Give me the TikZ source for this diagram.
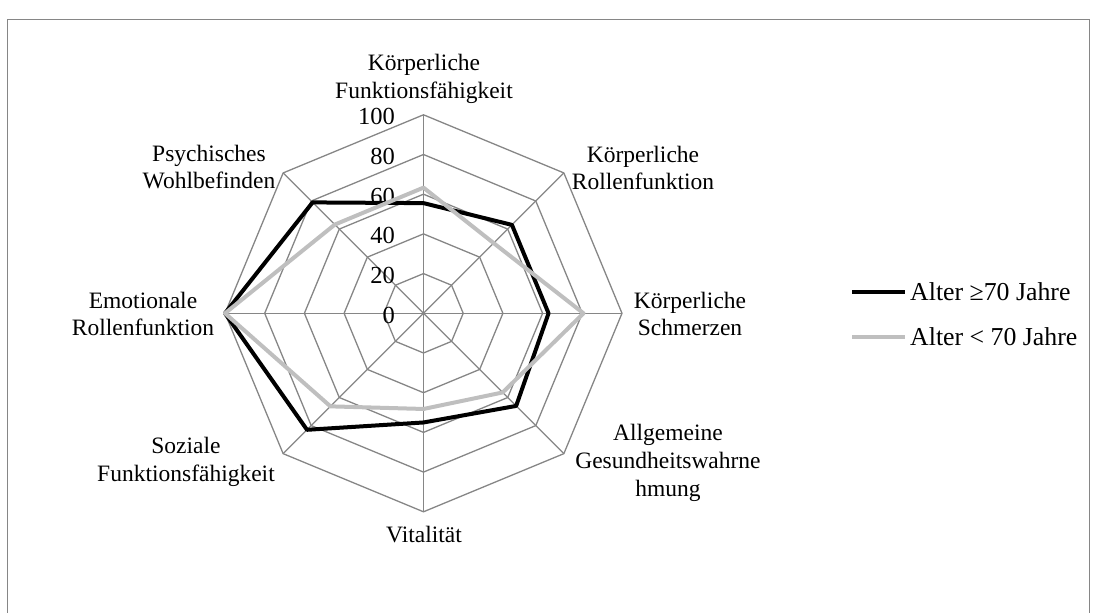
\documentclass[tikz,border=0pt]{standalone}
\usepackage{fontspec}
\setmainfont{Liberation Serif}
\usetikzlibrary{calc}
\definecolor{gridgray}{HTML}{868686}
\definecolor{younggray}{HTML}{BFBFBF}
\begin{document}
\begin{tikzpicture}[x=1pt,y=1pt,
  font=\fontsize{23.5}{27.8}\selectfont,
  gridline/.style={draw=gridgray, line width=1.3pt},
  oldline/.style={draw=black, line width=4pt, line join=round},
  youngline/.style={draw=younggray, line width=4pt, line join=round},
  lbl/.style={align=center, inner sep=0pt},
  ticklbl/.style={anchor=east, inner sep=0pt, font=\fontsize{24.5}{28}\selectfont},
  legtext/.style={anchor=west, inner sep=0pt, font=\fontsize{25.8}{30}\selectfont}]
\useasboundingbox (0,0) rectangle (1096,613);
\draw[draw=gridgray, line width=1pt] (7,-5) -- (7,593) -- (1089,593) -- (1089,-5);
\begin{scope}[shift={(423.5,299.7)}]
  % rings
  \foreach \v in {20,40,60,80,100}{
    \draw[gridline] (90:\v*1.985) -- (45:\v*1.985) -- (0:\v*1.985) -- (-45:\v*1.985)
      -- (-90:\v*1.985) -- (-135:\v*1.985) -- (180:\v*1.985) -- (135:\v*1.985) -- cycle;
  }
  % spokes
  \coordinate (c0) at (0,0);
  \foreach \a [count=\i] in {90,45,0,-45,-90,-135,180,135}{
    \coordinate (s\i) at (\a:198.5);
    \draw[gridline] (c0) -- (s\i);
  }
  % tick labels
  \foreach \v in {0,20,40,60,80,100}{
    \node[ticklbl] (t\v) at (-28.5,\v*1.985-2) {\v};
  }
  % series: Alter >= 70
  \draw[oldline] (90:55.5*1.985) -- (45:63*1.985) -- (0:63*1.985) -- (-45:66*1.985)
    -- (-90:55*1.985) -- (-135:83*1.985) -- (180:100*1.985) -- (135:79*1.985) -- cycle;
  % series: Alter < 70
  \draw[youngline] (90:63.3*1.985) -- (45:50*1.985) -- (0:80.6*1.985) -- (-45:56.4*1.985)
    -- (-90:48.2*1.985) -- (-135:66.3*1.985) -- (180:100*1.985) -- (135:63.2*1.985) -- cycle;
\end{scope}
% axis labels
\node[lbl] (lkf) at (424,534) {Körperliche\\Funktionsfähigkeit};
\node[lbl] (lkr) at (643,445) {Körperliche\\Rollenfunktion};
\node[lbl] (lks) at (690,299) {Körperliche\\Schmerzen};
\node[lbl] (lag) at (668,150) {Allgemeine\\Gesundheitswahrne\\hmung};
\node[lbl] (lvi) at (424,78) {Vitalität};
\node[lbl] (lsf) at (186,151) {Soziale\\Funktionsfähigkeit};
\node[lbl] (ler) at (143,299) {Emotionale\\Rollenfunktion};
\node[lbl] (lpw) at (209,446) {Psychisches\\Wohlbefinden};
% legend
\coordinate (la1) at (852,321);
\coordinate (lb1) at (905,321);
\coordinate (la2) at (852,276);
\coordinate (lb2) at (905,276);
\draw[oldline] (la1) -- (lb1);
\draw[youngline] (la2) -- (lb2);
\node[legtext] (leg1) at (910,321) {Alter ≥70 Jahre};
\node[legtext] (leg2) at (910,276) {Alter < 70 Jahre};
\end{tikzpicture}
\end{document}
